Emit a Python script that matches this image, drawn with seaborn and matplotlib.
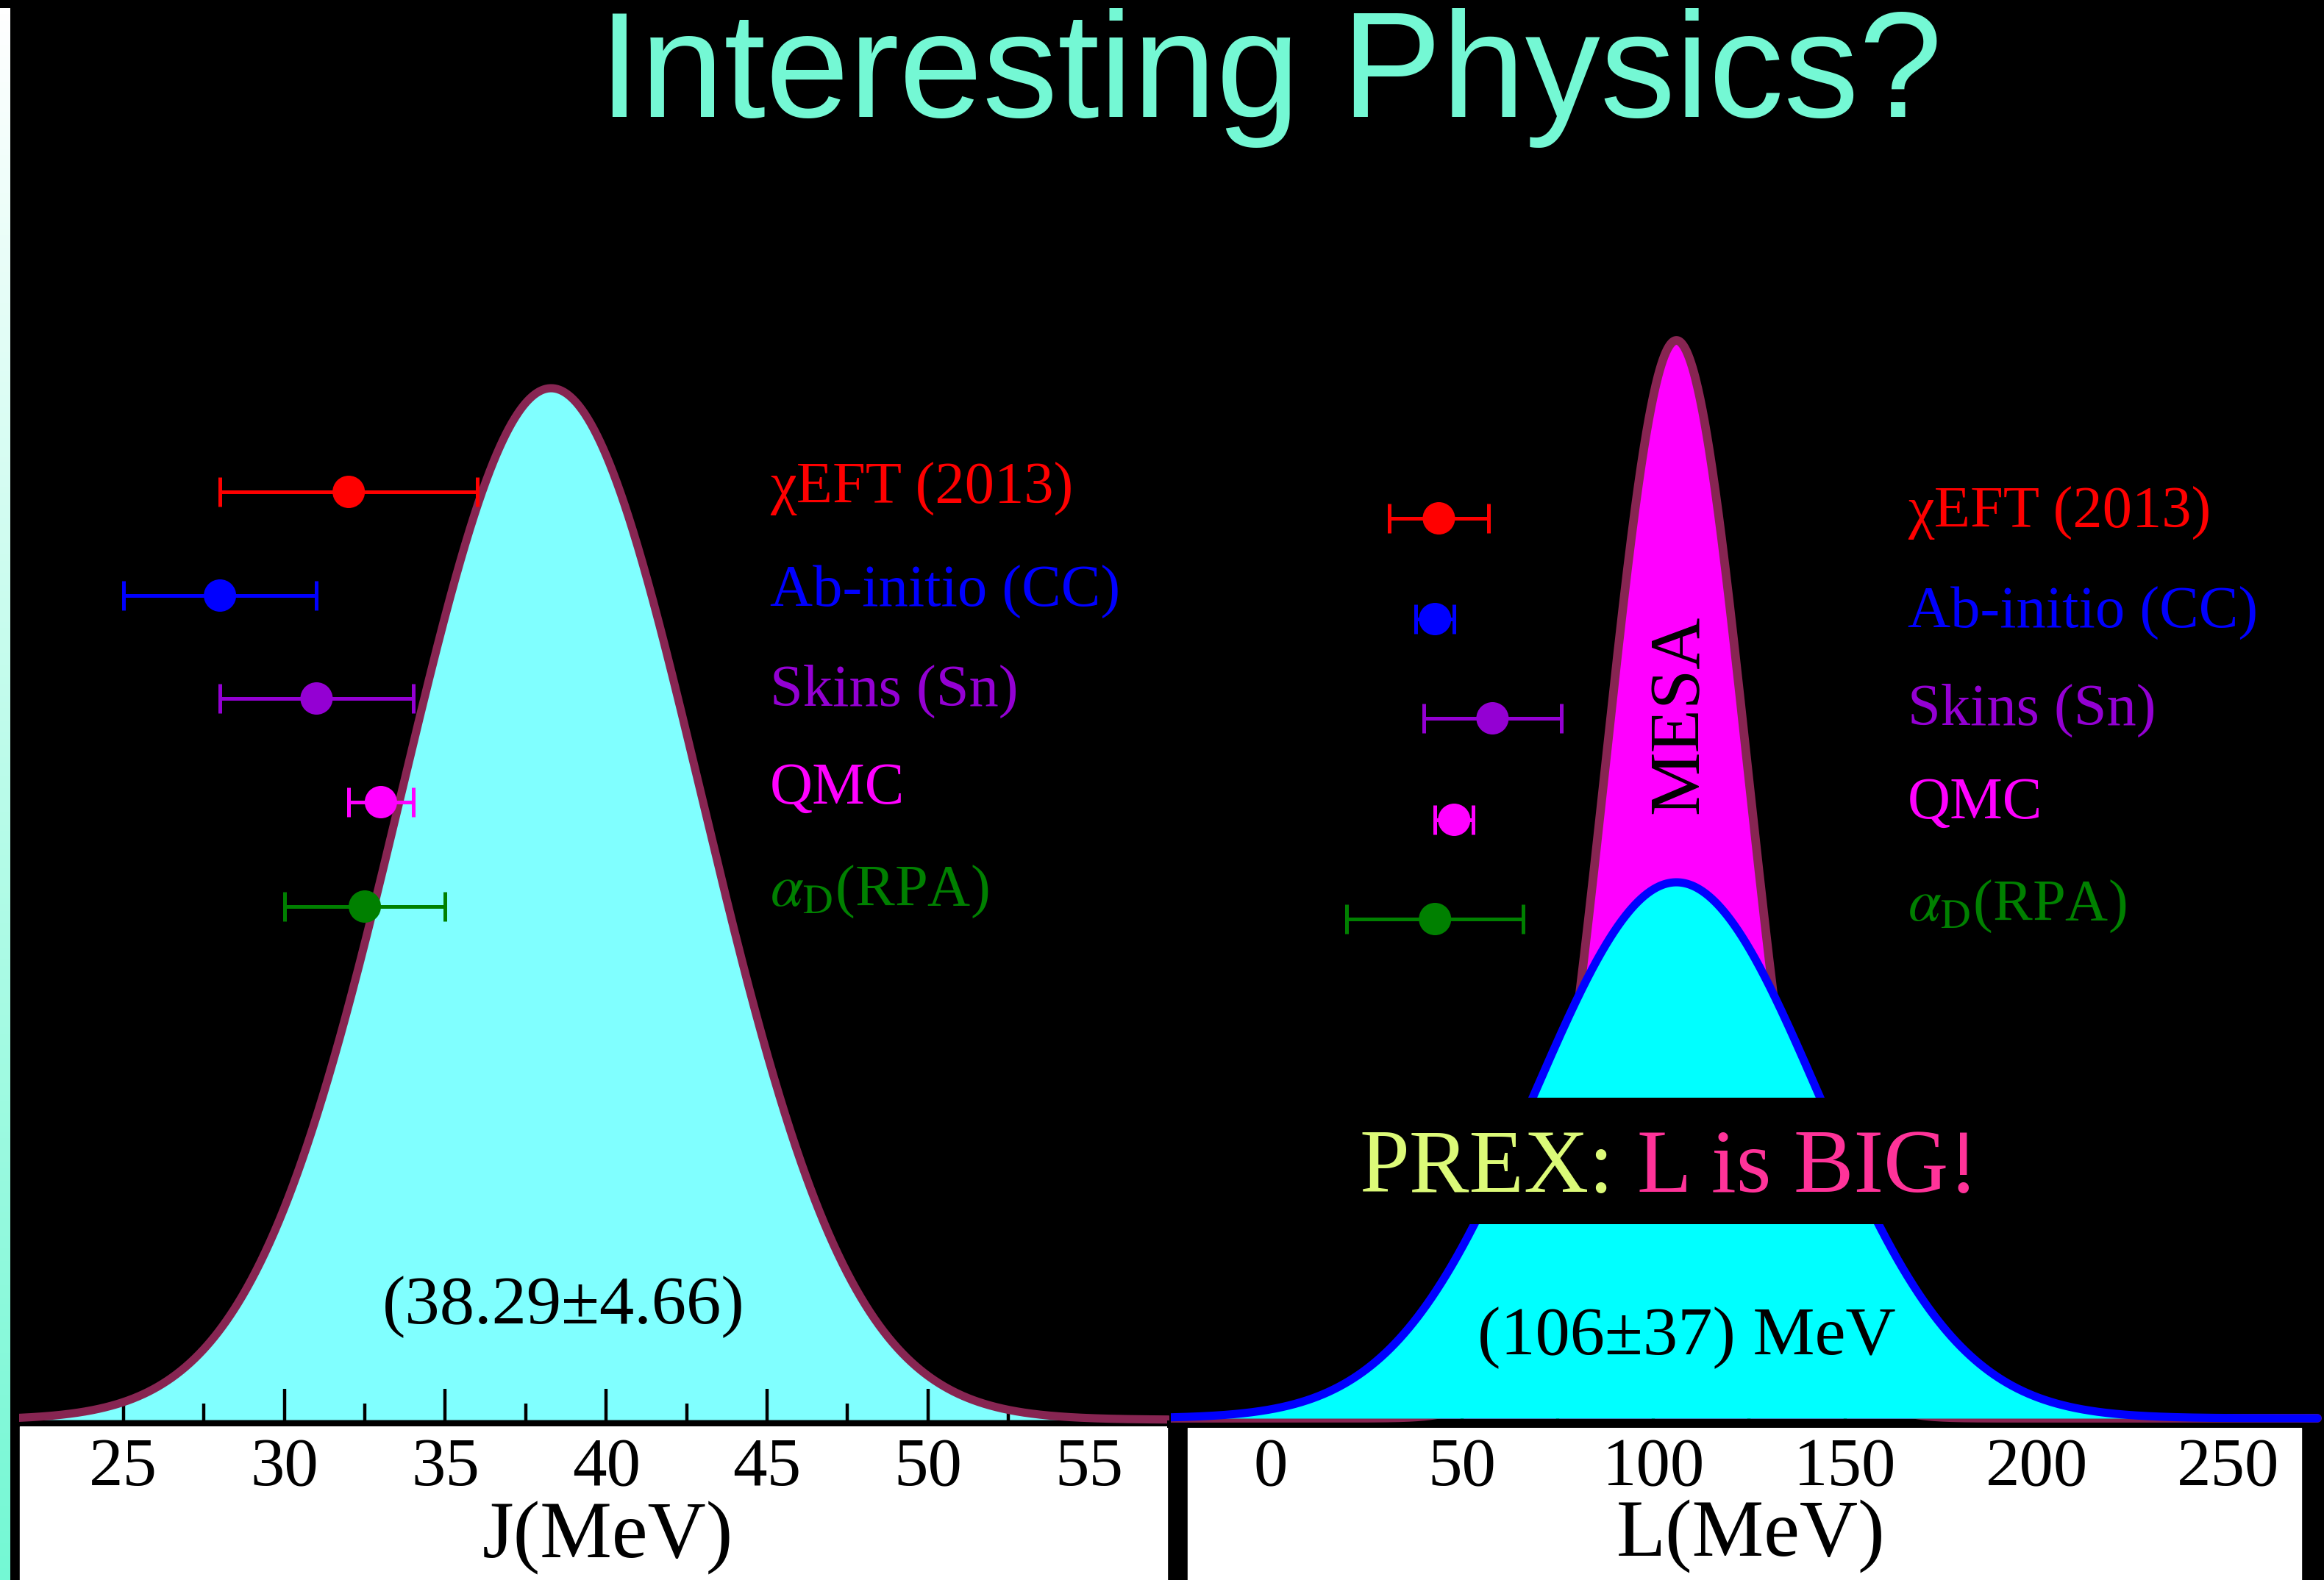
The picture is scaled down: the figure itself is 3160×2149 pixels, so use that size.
import numpy as np
import matplotlib
matplotlib.use("Agg")
import matplotlib.pyplot as plt
from matplotlib.patches import Rectangle
from matplotlib.colors import LinearSegmentedColormap
import seaborn as sns

# ---------------------------------------------------------------- data
models = ["χEFT (2013)", "Ab-initio (CC)", "Skins (Sn)", "QMC",
          r"$\alpha_{\mathrm{D}}$(RPA)"]
model_colors = ["#FF0000", "#0000FF", "#9400D3", "#FF00FF", "#008000"]

# symmetry energy J (MeV): central value and half-width of each constraint
J_center = [32.0, 28.0, 31.0, 33.0, 32.5]
J_err = [4.0, 3.0, 3.0, 1.0, 2.5]
# slope L (MeV)
L_center = [44.0, 43.0, 58.0, 48.0, 43.0]
L_err = [13.0, 5.0, 18.0, 5.0, 23.0]

J_mean, J_sigma = 38.29, 4.66           # combined J distribution
L_prex_mean, L_prex_sigma = 106.0, 37.0  # PREX result for L
L_mesa_mean, L_mesa_sigma = 106.0, 18.5  # projected MESA precision

J_ticks = [25, 30, 35, 40, 45, 50, 55]
J_minor = [22.5, 27.5, 32.5, 37.5, 42.5, 47.5, 52.5, 57.5]
L_ticks = [0, 50, 100, 150, 200, 250]
L_minor = [-25, 25, 75, 125, 175, 225, 275]

# ---------------------------------------------------------------- style
sns.set_theme(style="dark", rc={"axes.facecolor": "black",
                                "figure.facecolor": "black"})
plt.rcParams["font.family"] = ["Liberation Serif", "DejaVu Serif"]
plt.rcParams["mathtext.fontset"] = "stix"

W, H, DPI = 3160, 2149, 100
fig = plt.figure(figsize=(W / DPI, H / DPI), dpi=DPI, facecolor="black")


def fx(px):
    return px / W


def fy(py):
    return 1 - py / H


def gauss(x, mu, sig, amp):
    return amp * np.exp(-0.5 * ((x - mu) / sig) ** 2)


MAROON = "#872552"
TOP = 250

# white label strips under each panel
fig.patches.append(Rectangle((fx(27), 0), fx(1587 - 27), (2149 - 1940) / H,
                             transform=fig.transFigure, color="white", zorder=-1))
fig.patches.append(Rectangle((fx(1615), 0), fx(3129 - 1615), (2149 - 1942) / H,
                             transform=fig.transFigure, color="white", zorder=-1))

# left edge colour band
strip = fig.add_axes([0, 0, fx(14), (H - 11) / H])
strip.imshow(np.linspace(0, 1, 256)[:, None], aspect="auto",
             cmap=LinearSegmentedColormap.from_list("edge", ["white", "#74F8D4"]))
strip.axis("off")

# ---------------------------------------------------------------- J panel
base1, bot1 = 1931, 1937
ax1 = fig.add_axes([fx(26), fy(bot1), fx(1590 - 26), (bot1 - TOP) / H])
ax1.set_xlim(21.758, 57.466)
ax1.set_ylim(-(bot1 - base1), base1 - TOP)

xJ = np.linspace(21.758, 57.466, 1500)
yJ = gauss(xJ, J_mean, J_sigma, 1403)
ax1.fill_between(xJ, 0, yJ, color="#80FFFF", lw=0, zorder=1)
sns.lineplot(x=xJ, y=yJ, ax=ax1, color=MAROON, lw=8, zorder=3,
             estimator=None, sort=False)

rows1 = [base1 - p for p in [669, 810, 950, 1091, 1233]]
for c, e, y, col in zip(J_center, J_err, rows1, model_colors):
    ax1.errorbar(c, y, xerr=e, fmt="none", ecolor=col, elinewidth=3.6,
                 capsize=14.4, capthick=3.6, zorder=4)
sns.scatterplot(x=J_center, y=rows1, hue=models, palette=model_colors,
                s=1005, edgecolor="none", legend=False, ax=ax1, zorder=5)

# ---------------------------------------------------------------- L panel
base2, bot2 = 1929, 1937
ax2 = fig.add_axes([fx(1592), fy(bot2), fx(3160 - 1592), (bot2 - TOP) / H])
ax2.set_xlim(-25.95, 273.28)
ax2.set_ylim(-(bot2 - base2), base2 - TOP)

xL = np.linspace(-25.95, 273.28, 1500)
yM = gauss(xL, L_mesa_mean, L_mesa_sigma, 1466)
yP = gauss(xL, L_prex_mean, L_prex_sigma, 729)
ax2.fill_between(xL, 0, yM, color="#FF00FF", lw=0, zorder=1)
sns.lineplot(x=xL, y=yM, ax=ax2, color=MAROON, lw=8.5, zorder=3,
             estimator=None, sort=False)
ax2.fill_between(xL, 0, yP, color="#00FFFF", lw=0, zorder=3.1)
sns.lineplot(x=xL, y=yP, ax=ax2, color="#0000FF", lw=8, zorder=3.2,
             estimator=None, sort=False)
ax2.axhspan(base2 - 1665, base2 - 1493, color="black", lw=0, zorder=3.5)

rows2 = [base2 - p for p in [705, 842, 977, 1115, 1250]]
for c, e, y, col in zip(L_center, L_err, rows2, model_colors):
    ax2.errorbar(c, y, xerr=e, fmt="none", ecolor=col, elinewidth=3.6,
                 capsize=14.4, capthick=3.6, zorder=4)
sns.scatterplot(x=L_center, y=rows2, hue=models, palette=model_colors,
                s=1005, edgecolor="none", legend=False, ax=ax2, zorder=5)

# ---------------------------------------------------------------- axes cosmetics
for ax, ticks, minor, spw in [(ax1, J_ticks, J_minor, 3.6), (ax2, L_ticks, L_minor, 7.2)]:
    ax.set_facecolor("black")
    ax.grid(False)
    for s in ["left", "right", "top"]:
        ax.spines[s].set_visible(False)
    ax.spines["bottom"].set_visible(True)
    ax.spines["bottom"].set_color("black")
    ax.spines["bottom"].set_linewidth(spw)
    ax.set_axisbelow(False)
    ax.set_yticks([])
    ax.set_xticks(ticks)
    ax.set_xticks(minor, minor=True)
    ax.set_xticklabels([str(t) for t in ticks])
    ax.tick_params(axis="x", which="major", direction="in", length=34.5,
                   width=3.2, color="black", labelsize=67, labelcolor="black",
                   pad=13, bottom=True)
    ax.tick_params(axis="x", which="minor", direction="in", length=20,
                   width=3.2, color="black", bottom=True)

ax1.set_xlabel("J(MeV)", fontsize=79, color="black")
ax1.xaxis.set_label_coords(fx(826), fy(2118), transform=fig.transFigure)
ax1.xaxis.label.set_verticalalignment("baseline")
ax2.set_xlabel("L(MeV)", fontsize=79, color="black")
ax2.xaxis.set_label_coords(fx(2381), fy(2116), transform=fig.transFigure)
ax2.xaxis.label.set_verticalalignment("baseline")

# ---------------------------------------------------------------- text
fig.text(fx(1728), fy(159), "Interesting Physics?", ha="center", va="baseline",
         fontsize=147, color="#74F8D4", family=["Liberation Sans", "DejaVu Sans"])

for name, col, b1, b2 in zip(models, model_colors,
                             [685, 825, 960, 1093, 1232],
                             [718, 854, 986, 1113, 1252]):
    fig.text(fx(1047), fy(b1), name, color=col, fontsize=58, va="baseline")
    fig.text(fx(2594), fy(b2), name, color=col, fontsize=58, va="baseline")

fig.text(fx(766), fy(1800), "(38.29±4.66)", ha="center", va="baseline",
         fontsize=68, color="black")
fig.text(fx(2293), fy(1842), "(106±37) MeV", ha="center", va="baseline",
         fontsize=68, color="black")
fig.text(fx(2285), fy(972), "MESA", rotation=90, ha="center", va="center",
         fontsize=70, color="black")
fig.text(fx(1848), fy(1621), "PREX:", ha="left", va="baseline",
         fontsize=88, color="#DCFA78")
fig.text(fx(2226), fy(1621), "L is BIG!", ha="left", va="baseline",
         fontsize=88, color="#FF3399")

fig.savefig("out.png", dpi=DPI, facecolor="black")
